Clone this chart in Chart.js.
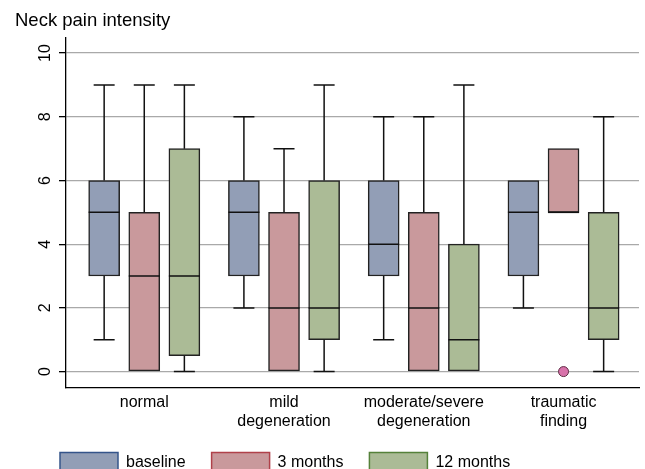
<!DOCTYPE html>
<html>
<head>
<meta charset="utf-8">
<title>Neck pain intensity</title>
<script src="https://cdn.jsdelivr.net/npm/chart.js@4.4.1/dist/chart.umd.min.js"></script>
<style>
  html, body { margin: 0; padding: 0; background: #fff; }
  canvas { display: block; }
</style>
</head>
<body>
<canvas id="grafic" width="645" height="469"></canvas>
<script>
// Categories de l'eix x
const categories = ['normal', ['mild', 'degeneration'], ['moderate/severe', 'degeneration'], ['traumatic', 'finding']];
const series = ['baseline', '3 months', '12 months'];

// Ticks de l'eix y
const yTicks = [0, 2, 4, 6, 8, 10];

// baseline (min, q1, mediana, q3, max)
const baseLo = [1, 2, 1, 2];
const baseQ1 = [3, 3, 3, 3];
const baseMed = [5, 5, 4, 5];
const baseQ3 = [6, 6, 6, 6];
const baseHi = [9, 8, 8, 6];

// 3 months
const m3Lo = [0, 0, 0, 5];
const m3Q1 = [0, 0, 0, 5];
const m3Med = [3, 2, 2, 5];
const m3Q3 = [5, 5, 5, 7];
const m3Hi = [9, 7, 8, 7];
const m3Outliers = [[], [], [], [0]];

// 12 months
const m12Lo = [0, 0, 0, 0];
const m12Q1 = [0.5, 1, 0, 1];
const m12Med = [3, 2, 1, 2];
const m12Q3 = [7, 6, 4, 5];
const m12Hi = [9, 9, 9, 8];

const boxes = [
  { lo: baseLo, q1: baseQ1, med: baseMed, q3: baseQ3, hi: baseHi },
  { lo: m3Lo, q1: m3Q1, med: m3Med, q3: m3Q3, hi: m3Hi },
  { lo: m12Lo, q1: m12Q1, med: m12Med, q3: m12Q3, hi: m12Hi }
];

// Estils
const fills = ['#929eb6', '#c9999c', '#abbb96'];
const legendBorders = ['#34548a', '#b0414a', '#55813a'];
const offsets = [-0.287, 0, 0.287]; // posicio de cada serie dins el grup
const boxWidth = 31;
const capHalf = 10.5;

Chart.defaults.font.family = "'Liberation Sans', Arial, Helvetica, sans-serif";
Chart.defaults.color = '#000';

// Bigotis i medianes
const whiskerPlugin = {
  id: 'whiskers',
  afterDatasetsDraw(chart) {
    const ctx = chart.ctx;
    const xs = chart.scales.x, ys = chart.scales.y;
    ctx.save();
    ctx.strokeStyle = '#111';
    ctx.lineWidth = 1.5;
    boxes.forEach((b, s) => {
      b.q1.forEach((q1, i) => {
        const px = xs.getPixelForValue(i + offsets[s]);
        ctx.beginPath();
        if (b.hi[i] > b.q3[i]) {
          ctx.moveTo(px, ys.getPixelForValue(b.q3[i]));
          ctx.lineTo(px, ys.getPixelForValue(b.hi[i]));
          ctx.moveTo(px - capHalf, ys.getPixelForValue(b.hi[i]));
          ctx.lineTo(px + capHalf, ys.getPixelForValue(b.hi[i]));
        }
        if (b.lo[i] < q1) {
          ctx.moveTo(px, ys.getPixelForValue(q1));
          ctx.lineTo(px, ys.getPixelForValue(b.lo[i]));
          ctx.moveTo(px - capHalf, ys.getPixelForValue(b.lo[i]));
          ctx.lineTo(px + capHalf, ys.getPixelForValue(b.lo[i]));
        }
        // mediana
        ctx.moveTo(px - boxWidth / 2, ys.getPixelForValue(b.med[i]));
        ctx.lineTo(px + boxWidth / 2, ys.getPixelForValue(b.med[i]));
        ctx.stroke();
      });
    });
    ctx.restore();
  }
};

// Titol arran de la vora esquerra, llegenda enganxada sota les etiquetes
const layoutTweak = {
  id: 'layoutTweak',
  afterLayout(chart) {
    chart.titleBlock.left = 15;
    const lg = chart.legend;
    const h = lg.bottom - lg.top;
    lg.top = chart.chartArea.bottom + 39;
    lg.bottom = lg.top + h;
  }
};

const datasets = boxes.map((b, s) => ({
  label: series[s],
  data: b.q1.map((q1, i) => ({ x: i + offsets[s], y: [q1, b.q3[i]] })),
  backgroundColor: fills[s],
  borderColor: '#222',
  borderWidth: 1.5,
  borderSkipped: false,
  barThickness: boxWidth,
  grouped: false
}));

datasets.push({
  type: 'scatter',
  label: 'outliers',
  data: m3Outliers.flatMap((vals, i) => vals.map(v => ({ x: i + offsets[1], y: v }))),
  pointRadius: 5,
  backgroundColor: '#d872aa',
  borderColor: '#5e2c44',
  borderWidth: 1
});

new Chart(document.getElementById('grafic'), {
  type: 'bar',
  data: { datasets: datasets },
  options: {
    responsive: false,
    animation: false,
    layout: { padding: { left: 34, right: 2, top: 0, bottom: -26.5 } },
    plugins: {
      title: {
        display: true,
        text: 'Neck pain intensity',
        align: 'start',
        color: '#000',
        font: { size: 18.5, weight: 'normal' },
        padding: { top: 10, bottom: 5 }
      },
      legend: {
        position: 'bottom',
        align: 'start',
        labels: {
          boxWidth: 58,
          boxHeight: 20,
          padding: 26,
          color: '#000',
          font: { size: 16 },
          generateLabels: () => series.map((name, s) => ({
            text: name,
            fillStyle: fills[s],
            strokeStyle: legendBorders[s],
            lineWidth: 1.5,
            hidden: false,
            datasetIndex: s,
            fontColor: '#000'
          }))
        }
      },
      tooltip: { enabled: false }
    },
    scales: {
      x: {
        type: 'linear',
        min: -0.56,
        max: 3.54,
        offset: false,
        grid: { display: false, drawTicks: false },
        border: { color: '#000', width: 1.3 },
        afterBuildTicks: s => { s.ticks = categories.map((c, i) => ({ value: i })); },
        afterFit: s => { s.height = 52; },
        ticks: {
          callback: (v, i) => categories[i],
          padding: 5,
          maxRotation: 0,
          autoSkip: false,
          color: '#000',
          font: { size: 16 }
        }
      },
      y: {
        min: -0.5,
        max: 10.5,
        afterBuildTicks: s => { s.ticks = yTicks.map(v => ({ value: v })); },
        afterFit: s => { s.width = 32; },
        grid: { color: '#a9a9a9', lineWidth: 1.3, tickColor: '#000', tickLength: 7, tickWidth: 1.3 },
        border: { color: '#000', width: 1.3 },
        ticks: {
          minRotation: 90,
          maxRotation: 90,
          crossAlign: 'center',
          padding: 5,
          color: '#000',
          font: { size: 16 }
        }
      }
    }
  },
  plugins: [whiskerPlugin, layoutTweak]
});
</script>
</body>
</html>
